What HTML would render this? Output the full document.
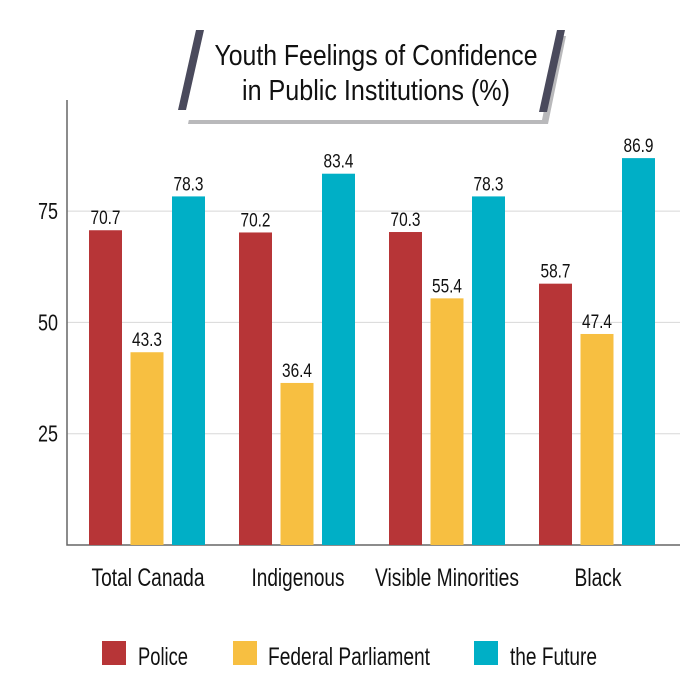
<!DOCTYPE html>
<html><head><meta charset="utf-8"><style>
html,body{margin:0;padding:0;background:#fff;}
svg{display:block;font-family:"Liberation Sans Narrow","Liberation Sans",sans-serif;}
</style></head><body>
<svg id="chart" width="700" height="688" viewBox="0 0 700 688">
  <g>
    <polygon points="206,36 566,36 548,124 188,124" fill="#b9b9bb"/>
    <polygon points="200,30 560,30 542,120 182,120" fill="#fff"/>
    <polygon points="196,30 204,30 186,110 178,110" fill="#4a4a5c"/>
    <polygon points="557,30 565,30 547,112 539,112" fill="#4a4a5c"/>
    <text x="376" y="65" font-size="29" text-anchor="middle" textLength="323" lengthAdjust="spacingAndGlyphs" fill="#111">Youth Feelings of Confidence</text>
    <text x="376" y="100" font-size="29" text-anchor="middle" textLength="268" lengthAdjust="spacingAndGlyphs" fill="#111">in Public Institutions (%)</text>
  </g>
  <g id="grid"></g>
  <g id="bars"></g>
  <g id="labels"></g>
  <g id="legend"></g>
</svg>
<script>
const categories = ["Total Canada","Indigenous","Visible Minorities","Black"];
const seriesNames = ["Police","Federal Parliament","the Future"];
const police = [70.7,70.2,70.3,58.7];
const parliament = [43.3,36.4,55.4,47.4];
const future = [78.3,83.4,78.3,86.9];
const yTicks = [25,50,75];
const colors = ["#b73537","#f7bf41","#00afc6"];
const series = [police, parliament, future];
const NS = "http://www.w3.org/2000/svg";
const y0 = 545, pxPerUnit = 111.3/25;
const yScale = v => y0 - v*pxPerUnit;
const groupX = i => 89 + i*150;
const barW = 33, barStep = 41.5;
const catLayout = [[148,113],[298,93],[447,144],[598,47]];
const legLayout = [[102,138,50],[233,268,162],[474,510,87]];
function mk(tag, attrs, parent, text){
  const e = document.createElementNS(NS, tag);
  for (const k in attrs) e.setAttribute(k, attrs[k]);
  if (text !== undefined) e.textContent = text;
  parent.appendChild(e);
  return e;
}
const grid = document.getElementById('grid');
yTicks.forEach(t => {
  const l = mk('line', {x1:67, x2:680, y1:yScale(t), y2:yScale(t), stroke:'#d8d8d8', 'stroke-width':1}, grid);
  
  
  const tx = mk('text', {x:58, y:yScale(t)+8, 'font-size':23, 'text-anchor':'end', textLength:20, lengthAdjust:'spacingAndGlyphs', fill:'#111'}, grid, String(t));
  
  
});
const ax = mk('path', {d:'M67,100 V545 H680', fill:'none', stroke:'#666', 'stroke-width':1.5}, grid);


const bars = document.getElementById('bars');
const labels = document.getElementById('labels');
categories.forEach((c, i) => {
  series.forEach((s, j) => {
    const x = groupX(i) + j*barStep;
    const v = s[i];
    const r = mk('rect', {x:x, y:yScale(v), width:barW, height:y0 - yScale(v), fill:colors[j]}, bars);
    
    
    const t = mk('text', {x:x + barW/2, y:yScale(v)-6, 'font-size':19, 'text-anchor':'middle', textLength:30, lengthAdjust:'spacingAndGlyphs', fill:'#111'}, labels, v.toFixed(1));
    
    
  });
  const ct = mk('text', {x:catLayout[i][0], y:586, 'font-size':25, 'text-anchor':'middle', textLength:catLayout[i][1], lengthAdjust:'spacingAndGlyphs', fill:'#111'}, labels, c);
  
  
});
const legend = document.getElementById('legend');
seriesNames.forEach((n, j) => {
  const L = legLayout[j];
  const r = mk('rect', {x:L[0], y:641, width:24, height:24, fill:colors[j]}, legend);
  
  
  const t = mk('text', {x:L[1], y:665, 'font-size':25, textLength:L[2], lengthAdjust:'spacingAndGlyphs', fill:'#111'}, legend, n);
  
  
});
</script>
</body></html>
